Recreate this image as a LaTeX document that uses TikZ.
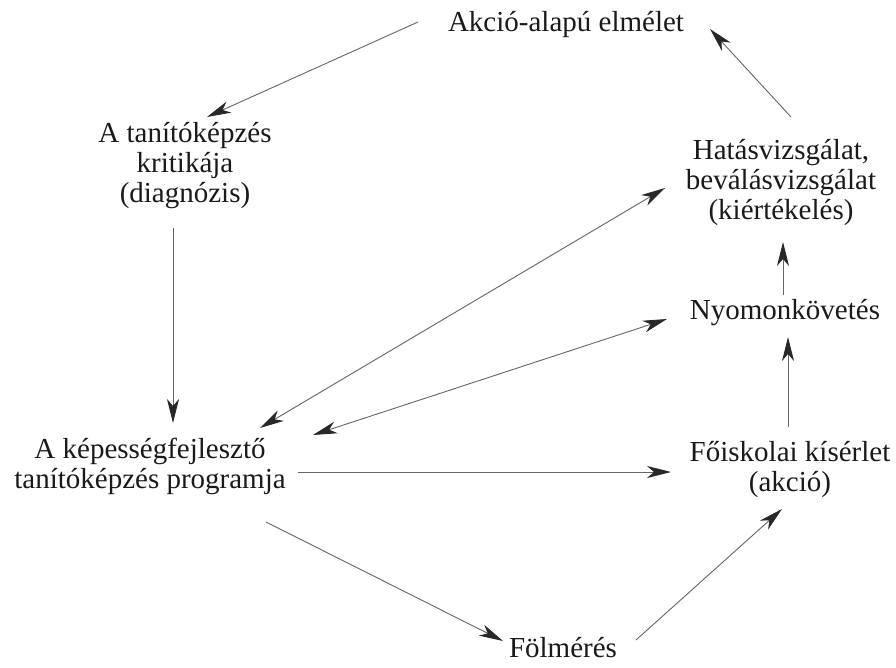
\documentclass[tikz,border=0pt]{standalone}
\usepackage{fontspec}
\setmainfont{Liberation Serif}
\usetikzlibrary{arrows.meta}
\definecolor{txt}{HTML}{1A1A1A}
\definecolor{ln}{HTML}{666666}
\definecolor{hd}{HTML}{282828}
\begin{document}
\begin{tikzpicture}[x=1pt,y=-1pt,
  lbl/.style={text=txt,align=center,inner sep=0pt,font=\fontsize{29}{30}\selectfont},
  headtip/.tip={Stealth[length=24pt,width=12pt,inset=7pt,color=hd]},
  arr/.style={draw=ln,line width=0.9pt,-headtip},
  darr/.style={draw=ln,line width=0.9pt,headtip-headtip}]
\useasboundingbox[fill=white] (0,0) rectangle (896,668);
\node[lbl] (akcio) at (566,25) {Akció-alapú elmélet};
\node[lbl] (kritika) at (185,166) {A tanítóképzés\\kritikája\\(diagnózis)};
\node[lbl] (hatas) at (781,183) {Hatásvizsgálat,\\beválásvizsgálat\\(kiértékelés)};
\node[lbl] (nyomon) at (785,313) {Nyomonkövetés};
\node[lbl] (kepes) at (150,466) {A képességfejlesztő\\tanítóképzés programja};
\node[lbl] (foisk) at (790,470) {Főiskolai kísérlet\\(akció)};
\node[lbl] (folm) at (563,648) {Fölmérés};
% connector end points
\coordinate (akcio-s) at (418,22);
\coordinate (kritika-n) at (207,117);
\coordinate (kritika-s) at (173,228);
\coordinate (kepes-n) at (173,423);
\coordinate (kepes-ne) at (260,428);
\coordinate (hatas-sw) at (665,188);
\coordinate (kepes-e) at (313,435);
\coordinate (nyomon-w) at (667,319);
\coordinate (kepes-r) at (298,472);
\coordinate (foisk-w) at (671,472);
\coordinate (kepes-se) at (266,522);
\coordinate (folm-nw) at (503,641);
\coordinate (folm-ne) at (636,640);
\coordinate (foisk-s) at (782,509);
\coordinate (foisk-n) at (788,427);
\coordinate (nyomon-s) at (788,337);
\coordinate (nyomon-n) at (783,295);
\coordinate (hatas-s) at (783,242);
\coordinate (hatas-n) at (791,117);
\coordinate (akcio-e) at (710,29);
\draw[arr] (akcio-s) -- (kritika-n);
\draw[arr] (kritika-s) -- (kepes-n);
\draw[darr] (kepes-ne) -- (hatas-sw);
\draw[darr] (kepes-e) -- (nyomon-w);
\draw[arr] (kepes-r) -- (foisk-w);
\draw[arr] (kepes-se) -- (folm-nw);
\draw[arr] (folm-ne) -- (foisk-s);
\draw[arr] (foisk-n) -- (nyomon-s);
\draw[arr] (nyomon-n) -- (hatas-s);
\draw[arr] (hatas-n) -- (akcio-e);
\end{tikzpicture}
\end{document}
